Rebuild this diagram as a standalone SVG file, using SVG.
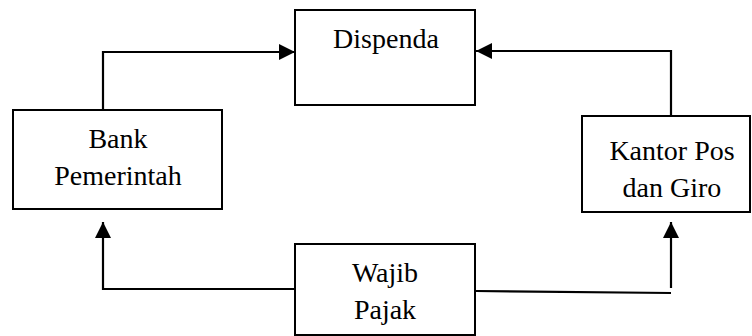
<svg xmlns="http://www.w3.org/2000/svg" width="752" height="336" viewBox="0 0 752 336">
<style>
.box{fill:#fff;stroke:#000;stroke-width:2}
.t{font-family:"Liberation Serif","Times New Roman",serif;font-size:28px;fill:#000;text-anchor:middle}
.c{fill:none;stroke:#000;stroke-width:2.2}
</style>
<defs>
<marker id="ah" markerUnits="userSpaceOnUse" markerWidth="16" markerHeight="16" refX="16" refY="8" orient="auto">
<path d="M0,0 L16,8 L0,16 Z" fill="#000"/>
</marker>
</defs>
<rect width="752" height="336" fill="#fff"/>
<g id="connectors">
<path class="c" d="M103,110 V52 H295" marker-end="url(#ah)"/>
<path class="c" d="M671,116 V51 H476" marker-end="url(#ah)"/>
<path class="c" d="M295,289 H103 V222" marker-end="url(#ah)"/>
<path class="c" d="M476,291 L671,293"/>
<path class="c" d="M671,288 V222" marker-end="url(#ah)"/>
</g>
<g id="dispenda">
<rect class="box" x="295" y="10" width="180" height="95"/>
<text class="t" x="386" y="48">Dispenda</text>
</g>
<g id="bank">
<rect class="box" x="13" y="110" width="209" height="99"/>
<text class="t" x="118" y="148">Bank</text>
<text class="t" x="118" y="185">Pemerintah</text>
</g>
<g id="kantor">
<rect class="box" x="582" y="116" width="168" height="96"/>
<text class="t" x="672" y="160">Kantor Pos</text>
<text class="t" x="672" y="197">dan Giro</text>
</g>
<g id="wajib">
<rect class="box" x="295" y="244" width="180" height="91"/>
<text class="t" x="385" y="282">Wajib</text>
<text class="t" x="385" y="319">Pajak</text>
</g>
</svg>
